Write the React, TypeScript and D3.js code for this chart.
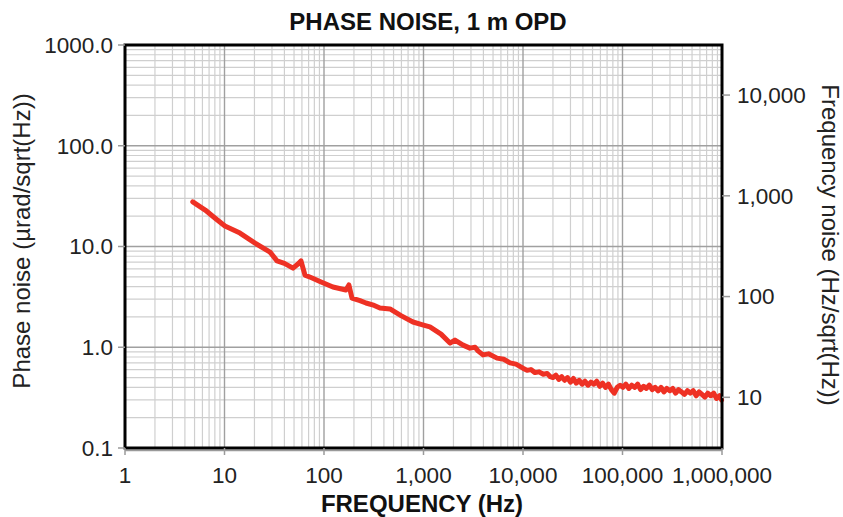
import React from "react";
import * as d3 from "d3";

const title = "PHASE NOISE, 1 m OPD";
const xLabel = "FREQUENCY (Hz)";
const yLabelLeft = "Phase noise (\u00b5rad/sqrt(Hz))";
const yLabelRight = "Frequency noise (Hz/sqrt(Hz))";

const xTicks = [1, 10, 100, 1000, 10000, 100000, 1000000];
const xTickLabels = ["1", "10", "100", "1,000", "10,000", "100,000", "1,000,000"];
const yTicks = [0.1, 1, 10, 100, 1000];
const yTickLabels = ["0.1", "1.0", "10.0", "100.0", "1000.0"];
const rightTicks = [10, 100, 1000, 10000];
const rightTickLabels = ["10", "100", "1,000", "10,000"];
const rightFactor = 31.4;

const freq = [
  4.8, 6.4, 8.0, 10.1, 14.3, 20.3, 28.7, 33.7, 40, 48.8, 54.8, 58.7, 64.4, 75, 91, 123, 166, 178, 191, 230, 264, 320, 365, 460, 600, 784, 1000, 1160, 1500, 1845, 2070, 2500, 2930, 3300, 3530, 3960, 4500, 5480, 6400, 7400, 8500,
  10000, 11000, 12000, 13200, 14500, 16000, 17500, 18800,
  20000, 21400, 22900, 24500, 26200, 28000, 30000, 32100, 34300, 36700, 39300, 42000, 45000, 48100, 51500, 55100, 59000, 63100, 67500, 72200, 77300, 82700, 88500, 94700,
  101000, 108000, 116000, 124000, 133000, 142000, 152000, 163000, 174000, 186000, 199000, 213000, 228000, 244000, 261000, 279000, 299000, 320000, 342000, 366000, 392000, 419000, 449000, 480000, 514000, 550000, 588000, 629000, 673000, 720000, 771000, 825000, 882000, 944000, 990000,
];
const phaseNoise = [
  27.7, 23.0, 19.2, 16.0, 13.6, 10.8, 8.8, 7.2, 6.8, 6.1, 6.7, 7.2, 5.2, 4.9, 4.5, 3.96, 3.7, 4.15, 3.08, 2.9, 2.75, 2.6, 2.45, 2.4, 2.05, 1.78, 1.66, 1.59, 1.35, 1.1, 1.18, 1.05, 0.98, 1.0, 0.92, 0.84, 0.86, 0.78, 0.76, 0.70, 0.68,
  0.62, 0.59, 0.60, 0.56, 0.57, 0.54, 0.55, 0.51,
  0.50, 0.53, 0.48, 0.51, 0.47, 0.50, 0.45, 0.49, 0.44, 0.47, 0.43, 0.46, 0.42, 0.45, 0.43, 0.46, 0.41, 0.44, 0.40, 0.43, 0.38, 0.35, 0.40, 0.42,
  0.40, 0.43, 0.39, 0.42, 0.40, 0.43, 0.38, 0.41, 0.39, 0.42, 0.38, 0.40, 0.37, 0.40, 0.36, 0.39, 0.37, 0.39, 0.35, 0.38, 0.36, 0.34, 0.37, 0.35, 0.37, 0.33, 0.36, 0.34, 0.32, 0.35, 0.33, 0.35, 0.31, 0.33, 0.30,
];

const W = 843;
const H = 517;
const L = 125, R = 722, T = 45, B = 448;
const font = "'Liberation Sans', Arial, Helvetica, sans-serif";

export default function App() {
  const x = d3.scaleLog().domain([1, 1e6]).range([L, R]);
  const y = d3.scaleLog().domain([0.1, 1000]).range([B, T]);
  const yr = d3.scaleLog().domain([0.1 * rightFactor, 1000 * rightFactor]).range([B, T]);

  const minorX: number[] = [];
  for (let d = 1; d < 1e6; d *= 10) for (let k = 2; k <= 9; k++) minorX.push(d * k);
  const minorY: number[] = [];
  for (let d = 0.1; d < 999; d *= 10) for (let k = 2; k <= 9; k++) minorY.push(d * k);

  const pts: [number, number][] = freq.map((f, i) => [f, phaseNoise[i]]);
  const line = d3
    .line<[number, number]>()
    .x((d) => x(d[0]))
    .y((d) => y(d[1]))
    .curve(d3.curveLinear);

  return (
    <svg width={W} height={H} style={{ position: "absolute", left: 0, top: 0, background: "#fff" }}>
      <rect width={W} height={H} fill="#fff" />
      {minorX.map((v, i) => (
        <line key={"mx" + i} x1={x(v)} x2={x(v)} y1={T} y2={B} stroke="#cfcfcf" strokeWidth={1.2} />
      ))}
      {minorY.map((v, i) => (
        <line key={"my" + i} x1={L} x2={R} y1={y(v)} y2={y(v)} stroke="#cfcfcf" strokeWidth={1.2} />
      ))}
      {xTicks.map((v, i) => (
        <line key={"Mx" + i} x1={x(v)} x2={x(v)} y1={T} y2={B} stroke="#a0a0a0" strokeWidth={1.4} />
      ))}
      {yTicks.map((v, i) => (
        <line key={"My" + i} x1={L} x2={R} y1={y(v)} y2={y(v)} stroke="#a0a0a0" strokeWidth={1.4} />
      ))}
      <path d={line(pts) || ""} fill="none" stroke="#ee3124" strokeWidth={5} strokeLinejoin="round" strokeLinecap="round" />
      <line x1={L} x2={R} y1={B + 2.5} y2={B + 2.5} stroke="#9a9a9a" strokeWidth={1.5} />
      <rect x={L} y={T} width={R - L} height={B - T} fill="none" stroke="#000" strokeWidth={3} />
      {yTicks.map((v, i) => (
        <g key={"yt" + i}>
          <line x1={L - 7} x2={L} y1={y(v)} y2={y(v)} stroke="#9a9a9a" strokeWidth={1.5} />
          <text x={L - 12} y={y(v)} dy="0.35em" textAnchor="end" fontFamily={font} fontSize={22.5} fill="#222">
            {yTickLabels[i]}
          </text>
        </g>
      ))}
      {xTicks.map((v, i) => (
        <g key={"xt" + i}>
          <line x1={x(v)} x2={x(v)} y1={B} y2={B + 7} stroke="#9a9a9a" strokeWidth={1.5} />
          <text x={x(v)} y={B + 35} textAnchor="middle" fontFamily={font} fontSize={22.5} fill="#222">
            {xTickLabels[i]}
          </text>
        </g>
      ))}
      {rightTicks.map((v, i) => (
        <g key={"rt" + i}>
          <line x1={R} x2={R + 8} y1={yr(v)} y2={yr(v)} stroke="#9a9a9a" strokeWidth={1.5} />
          <text x={R + 15} y={yr(v)} dy="0.35em" textAnchor="start" fontFamily={font} fontSize={22.5} fill="#222">
            {rightTickLabels[i]}
          </text>
        </g>
      ))}
      <text x={428} y={30} textAnchor="middle" fontFamily={font} fontSize={24} fontWeight="bold" fill="#111">
        {title}
      </text>
      <text x={422} y={512} textAnchor="middle" fontFamily={font} fontSize={24} fontWeight="bold" fill="#111">
        {xLabel}
      </text>
      <text
        transform={`translate(30,241) rotate(-90)`}
        textAnchor="middle"
        fontFamily={font}
        fontSize={24}
        fill="#222"
      >
        {yLabelLeft}
      </text>
      <text
        transform={`translate(822,245) rotate(90)`}
        textAnchor="middle"
        fontFamily={font}
        fontSize={24}
        fill="#222"
      >
        {yLabelRight}
      </text>
    </svg>
  );
}
